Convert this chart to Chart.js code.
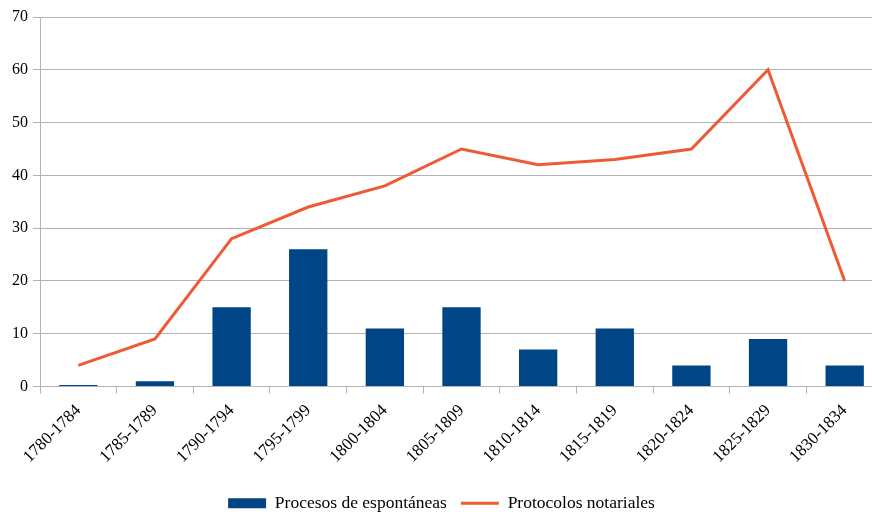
<!DOCTYPE html>
<html><head><meta charset="utf-8">
<script src="https://cdn.jsdelivr.net/npm/chart.js@4/dist/chart.umd.min.js"></script>
<style>html,body{margin:0;padding:0;background:#fff;overflow:hidden;width:872px;height:512px}#wrap{width:890px;height:522px}</style>
</head><body><div id="wrap"><canvas id="c" width="890" height="522"></canvas></div>
<script>
const categories = ["1780-1784","1785-1789","1790-1794","1795-1799","1800-1804","1805-1809","1810-1814","1815-1819","1820-1824","1825-1829","1830-1834"];
const procesos = [0.3, 1, 15, 26, 11, 15, 7, 11, 4, 9, 4];
const protocolos = [4, 9, 28, 34, 38, 45, 42, 43, 45, 60, 20];
const yTicks = [0,10,20,30,40,50,60,70];
const seriesNames = ["Procesos de espontáneas", "Protocolos notariales"];

const FONT = "'Liberation Serif', 'DejaVu Serif', serif";
new Chart(document.getElementById('c'), {
  data: {
    labels: categories,
    datasets: [
      { type:'line', label: seriesNames[1], data: protocolos, borderColor:'#ee5a34', backgroundColor:'#ee5a34', borderWidth:3, pointRadius:0, tension:0, order:0, pointStyle:'line' },
      { type:'bar', label: seriesNames[0], data: procesos, backgroundColor:'#004586', borderWidth:0, barPercentage:0.5, categoryPercentage:1, order:1, pointStyle:'rect' }
    ]
  },
  options: {
    responsive:false, animation:false,
    layout:{ padding:{ top:17, right:7, bottom:0, left:0 } },
    plugins:{
      tooltip:{enabled:false},
      legend:{
        position:'bottom',
        reverse:true,
        labels:{ font:{family:FONT,size:17.5}, color:'#000', usePointStyle:true, pointStyleWidth:38, boxHeight:10, padding:14 }
      }
    },
    scales:{
      x:{
        offset:true,
        grid:{ offset:true, drawOnChartArea:false, drawTicks:true, tickLength:7, color:'#b3b3b3' },
        border:{ color:'#b3b3b3' },
        ticks:{ font:{family:FONT,size:17}, color:'#000', minRotation:45, maxRotation:45, padding:7 },
        afterFit:(s)=>{ s.height = 94; }
      },
      y:{
        min:0, max:70,
        afterBuildTicks:(s)=>{ s.ticks = yTicks.map(v=>({value:v})); },
        grid:{ color:'#b3b3b3', tickLength:7 },
        border:{ color:'#b3b3b3' },
        ticks:{ font:{family:FONT,size:16}, color:'#000', padding:5 },
        afterFit:(s)=>{ s.width = 40; }
      }
    }
  }
});
</script></body></html>
